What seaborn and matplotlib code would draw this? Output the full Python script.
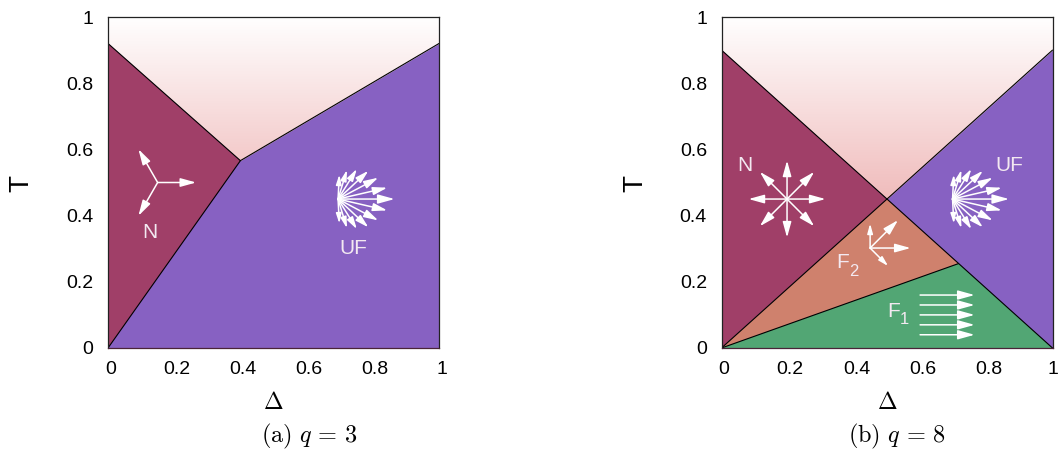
import numpy as np
import matplotlib
matplotlib.use("Agg")
import matplotlib.pyplot as plt
import matplotlib.transforms as mtrans
import seaborn as sns

# phase boundaries
delta_a = [0, 0.40, 1]
upper_a = [0.92, 0.566, 0.92]
lower_delta_a = [0, 0.40]
lower_t_a = [0, 0.566]

delta_b = [0, 0.5, 1]
upper_b = [0.90, 0.45, 0.90]
f2_delta = [0, 0.5, 0.716]
f2_top = [0, 0.45, 0.255]
f1_delta = [0, 0.716, 1]
f1_top = [0, 0.255, 0]

tick_vals = [0, 0.2, 0.4, 0.6, 0.8, 1]
tick_labels = ["0", "0.2", "0.4", "0.6", "0.8", "1"]

# arrows: angle in degrees, length and head in pixels
n3_angles = [0, 120, 240]
n8_angles = [0, 45, 90, 135, 180, 225, 270, 315]
fan_angles = [0, 13, 28, 43, 58, 73, 87, -13, -28, -43, -58, -73, -87]
fan_lengths = [54, 48, 43, 39, 33, 28, 22, 48, 43, 39, 33, 28, 22]
fan_heads = [14, 12, 12, 11, 10, 9, 8, 12, 12, 11, 10, 9, 8]
f2_angles = [0, 45, 90, -45]
f2_lengths = [38, 37, 22, 23]
f2_heads = [13, 13, 8, 8]
f1_rows = [0.16, 0.13, 0.10, 0.07, 0.04]

N_COL = "#a03f68"
UF_COL = "#8761c2"
F2_COL = "#cf816d"
F1_COL = "#52a674"
LABEL_COL = "#f3e9f1"

W, H = 1058, 449
PX = 331.0  # axes size in pixels

sns.set_theme(style="white")
plt.rcParams["font.family"] = ["Liberation Sans", "DejaVu Sans"]
plt.rcParams["mathtext.fontset"] = "cm"

fig = plt.figure(figsize=(W / 100, H / 100), dpi=100)


def make_axes(left_px, last_shift):
    ax = fig.add_axes([left_px / W, 1 - 348 / H, PX / W, PX / H])
    ramp = np.linspace(0, 1, 256).reshape(-1, 1)
    cmap = sns.blend_palette(["#f0bcbc", "#ffffff"], as_cmap=True)
    ax.imshow(ramp, extent=(0, 1, 0.45, 1), origin="lower", cmap=cmap, aspect="auto", zorder=0)
    ax.set_xlim(0, 1)
    ax.set_ylim(0, 1)
    ax.set_xticks(tick_vals, tick_labels)
    ax.set_yticks(tick_vals, tick_labels)
    ax.tick_params(length=0, labelsize=14, colors="black")
    ax.tick_params(axis="x", pad=9)
    ax.tick_params(axis="y", pad=10.5)
    # x labels sit a little right of their positions
    labs = ax.get_xticklabels()
    for i, lab in enumerate(labs):
        px = last_shift if i == len(labs) - 1 else 2.5
        lab.set_transform(lab.get_transform() + mtrans.ScaledTranslation(px / 100, 0, fig.dpi_scale_trans))
    for sp in ax.spines.values():
        sp.set_linewidth(0.9)
        sp.set_color("#222222")
        sp.set_zorder(5)
    ax.spines["bottom"].set_color("#4a2438")
    ax.grid(False)
    ax.set_xlabel("")
    ax.set_ylabel("")
    return ax


def boundary(ax, xs, ys):
    sns.lineplot(x=xs, y=ys, color="black", linewidth=0.8, sort=False, errorbar=None,
                 estimator=None, legend=False, ax=ax, zorder=3)


def arrow(ax, x0, y0, ang, length, head):
    # the head tip falls a little short of xy, so add a bit
    dx = (length + 2.5) * np.cos(np.radians(ang)) / PX
    dy = (length + 2.5) * np.sin(np.radians(ang)) / PX
    style = f"-|>,head_length={head * 0.72:.1f},head_width={head * 0.2:.1f}"
    ax.annotate("", xy=(x0 + dx, y0 + dy), xytext=(x0, y0),
                arrowprops=dict(arrowstyle=style, color="white", lw=1.1, mutation_scale=1,
                                shrinkA=0, shrinkB=0), zorder=4)


def label(ax, x, y, s, size=15):
    ax.text(x, y, s, color=LABEL_COL, fontsize=size, ha="center", va="center", zorder=4)


def titles(ax, cap_px, cap):
    fig.text((ax.get_position().x0 + PX / W / 2), 1 - 403 / H, r"$\mathbf{\Delta}$", fontsize=17,
             ha="center", va="center", color="black")
    fig.text(cap_px / W, 1 - 436 / H, cap, fontsize=17.5, ha="center", va="center", color="black")


# (a) q = 3
ax1 = make_axes(108, 2.5)
ax1.fill_between(delta_a, upper_a, 0, color=UF_COL, lw=0, zorder=1)
ax1.fill([0, 0, 0.40], [0, 0.92, 0.566], color=N_COL, lw=0, zorder=2)
boundary(ax1, delta_a, upper_a)
boundary(ax1, lower_delta_a, lower_t_a)
for a in n3_angles:
    arrow(ax1, 0.15, 0.5, a, 36, 13)
for a, ln, hd in zip(fan_angles, fan_lengths, fan_heads):
    arrow(ax1, 0.695, 0.45, a, ln, hd)
label(ax1, 0.125, 0.35, "N")
label(ax1, 0.74, 0.30, "UF")
titles(ax1, 309, r"$\mathrm{(a)}\ q\,=\,3$")
fig.text(21 / W, 1 - 183 / H, "T", fontsize=20, rotation=90, ha="center", va="center", color="black")

# (b) q = 8
ax2 = make_axes(721.5, 0)
ax2.fill_between(delta_b, upper_b, 0, color=UF_COL, lw=0, zorder=1)
ax2.fill([0, 0, 0.5], [0, 0.90, 0.45], color=N_COL, lw=0, zorder=2)
ax2.fill(f2_delta, f2_top, color=F2_COL, lw=0, zorder=2)
ax2.fill(f1_delta, f1_top, color=F1_COL, lw=0, zorder=2)
boundary(ax2, delta_b, upper_b)
boundary(ax2, [0, 0.5], [0, 0.45])
boundary(ax2, [0, 0.716], [0, 0.255])
boundary(ax2, [0.5, 1], [0.45, 0])
for a in n8_angles:
    arrow(ax2, 0.198, 0.45, a, 36, 13)
for a, ln, hd in zip(fan_angles, fan_lengths, fan_heads):
    arrow(ax2, 0.698, 0.45, a, ln, hd)
for a, ln, hd in zip(f2_angles, f2_lengths, f2_heads):
    arrow(ax2, 0.449, 0.302, a, ln, hd)
for t in f1_rows:
    arrow(ax2, 0.60, t, 0, 52, 14)
label(ax2, 0.07, 0.55, "N")
label(ax2, 0.87, 0.55, "UF")
label(ax2, 0.367, 0.257, "F")
label(ax2, 0.40, 0.23, "2", size=12)
label(ax2, 0.521, 0.109, "F")
label(ax2, 0.551, 0.085, "1", size=12)
titles(ax2, 897, r"$\mathrm{(b)}\ q\,=\,8$")
fig.text(635 / W, 1 - 183 / H, "T", fontsize=20, rotation=90, ha="center", va="center", color="black")

fig.savefig("out.png", dpi=100)
